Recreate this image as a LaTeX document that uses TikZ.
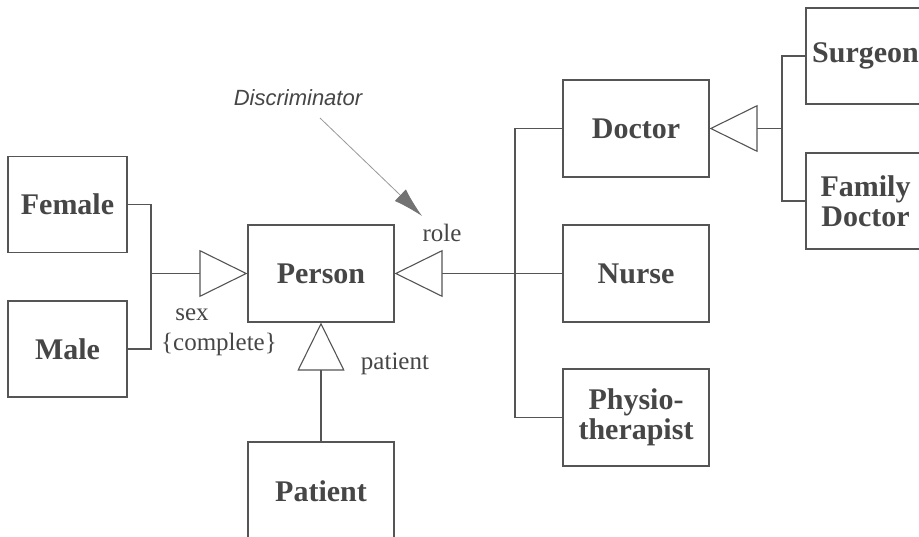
\documentclass[tikz,border=0pt]{standalone}
\usepackage{fontspec}
\setmainfont{Liberation Serif}
\newfontfamily\sansit{Liberation Sans}
\usetikzlibrary{arrows.meta}
\definecolor{ln}{RGB}{85,85,85}
\definecolor{tx}{RGB}{70,70,70}
\begin{document}
\begin{tikzpicture}[x=1pt,y=-1pt,
 cls/.style={draw=ln, line width=1.1pt, minimum width=146pt, minimum height=97pt, inner sep=0pt, text=tx, font=\fontsize{30}{30}\selectfont\bfseries, align=center},
 clsn/.style={cls, minimum width=119pt, minimum height=96pt},
 conn/.style={draw=ln, line width=1.1pt},
 gen/.style={conn, -{Triangle[open, length=48pt, width=47pt, fill=white]}},
 lbl/.style={text=tx, font=\fontsize{25}{25}\selectfont, inner sep=0pt},
]
\useasboundingbox (0,0) rectangle (919,537);
\clip (0,0) rectangle (919,537);
\fill[white] (0,0) rectangle (919,537);

\node[clsn] (female) at (67.5,204.5) {Female};
\node[clsn] (male) at (67.5,349) {Male};
\node[cls] (person) at (321,273.5) {Person};
\node[cls, minimum height=98pt] (patient) at (321,491) {Patient};
\node[cls] (doctor) at (636,128.5) {Doctor};
\node[cls] (nurse) at (636,273.5) {Nurse};
\node[cls] (physio) at (636,417.5) {Physio-\\therapist};
\node[clsn] (surgeon) at (865.5,56) {Surgeon};
\node[clsn] (famdoc) at (865.5,201) {Family\\Doctor};

\coordinate (sexJ) at (151,273.5);
\coordinate (roleJ) at (515,273.5);
\coordinate (docJ) at (782,128.5);

\draw[conn] (female.east) -| (sexJ) |- (male.east);
\draw[gen] (sexJ) -- (person.west);
\draw[gen] (roleJ) -- (person.east);
\draw[conn] (doctor.west) -| (roleJ) |- (physio.west);
\draw[conn] (roleJ) -- (nurse.west);
\draw[gen] (patient.north) -- (person.south);
\draw[gen] (docJ) -- (doctor.east);
\draw[conn] (surgeon.west) -| (docJ) |- (famdoc.west);

\node[lbl] (sexl) at (192,315) {sex};
\node[lbl] (compl) at (219,344) {\{complete\}};
\node[lbl] (patl) at (395,364) {patient};
\node[lbl] (rolel) at (442,233) {role};
\node[text=tx, font=\sansit\fontsize{22}{22}\selectfont\itshape, inner sep=0pt] (disc) at (298,98) {Discriminator};

\coordinate (dA) at (320,118);
\coordinate (dB) at (422,216);
\draw[draw=black!40, line width=0.8pt, -{Latex[length=30pt,width=16pt,color=black!55]}] (dA) -- (dB);
\end{tikzpicture}
\end{document}
